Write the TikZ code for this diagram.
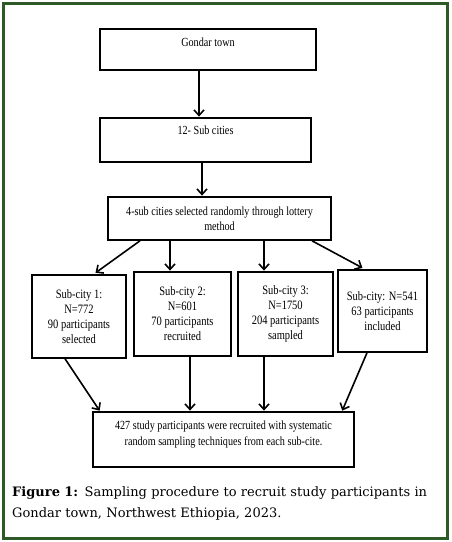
\documentclass[tikz,border=0pt]{standalone}
\usepackage{fontspec}
\setmainfont{Liberation Serif}
\newfontfamily\boxfont[FakeStretch=0.82]{Liberation Serif}
\newfontfamily\capfont{DejaVu Serif}
\usetikzlibrary{arrows.meta,calc}
\definecolor{framegreen}{HTML}{2E5A27}
\tikzset{
  box/.style={draw=black, line width=1.6pt, align=center, inner sep=0pt,
    font=\boxfont\fontsize{12.4}{15}\selectfont},
  arr/.style={line width=1.6pt, -{Straight Barb[length=5.5pt,width=10pt,line width=1.6pt]}, shorten >=0.6pt},
}
\begin{document}
\begin{tikzpicture}[x=1pt,y=-1pt]
\useasboundingbox (0,0) rectangle (452,542);
\fill[white] (0,0) rectangle (452,542);
\draw[framegreen, line width=3pt] (3.4,3.4) rectangle (447.6,538);

\node[box, minimum width=216pt, minimum height=41pt, text height=8pt, text depth=14pt] (g) at (208,49.5) {Gondar town};
\node[box, minimum width=211pt, minimum height=44pt, text height=8pt, text depth=19pt] (s) at (205.5,140) {12- Sub cities};
\node[box, minimum width=223pt, minimum height=43pt] (l) at (219.5,218.5) {4-sub cities selected randomly through lottery\\method};

\node[box, minimum width=94pt, minimum height=83pt, font=\boxfont\fontsize{12.8}{15}\selectfont] (a) at (79,316.5) {Sub-city 1:\\N=772\\90 participants\\selected};
\node[box, minimum width=97pt, minimum height=84pt, font=\boxfont\fontsize{12.8}{15}\selectfont] (b) at (182.5,314) {Sub-city 2:\\N=601\\70 participants\\recruited};
\node[box, minimum width=95pt, minimum height=84pt, font=\boxfont\fontsize{12.8}{15}\selectfont] (c) at (285.5,314) {Sub-city 3:\\N=1750\\204 participants\\sampled};
\node[box, minimum width=89pt, minimum height=82pt, font=\boxfont\fontsize{12.8}{15}\selectfont] (d) at (382.5,311) {Sub-city: N=541\\63 participants\\included};

\node[box, minimum width=261pt, minimum height=55pt, text depth=12.5pt, font=\boxfont\fontsize{12.4}{16}\selectfont] (t) at (223.5,439.5) {427 study participants were recruited with systematic\\random sampling techniques from each sub-cite.};

\draw[arr] ([xshift=-9pt]g.south) -- ([xshift=-9pt]g.south |- s.north);
\draw[arr] ([xshift=-3.5pt]s.south) -- ([xshift=-3.5pt]s.south |- l.north);

\draw[arr] ([xshift=-79.5pt]l.south) -- ([xshift=16pt,yshift=1pt]a.north);
\draw[arr] ([xshift=-49.5pt]l.south) -- ([xshift=-12.5pt]b.north);
\draw[arr] ([xshift=44.5pt]l.south) -- ([xshift=-21.5pt]c.north);
\draw[arr] ([xshift=92.5pt]l.south) -- ([xshift=-19.5pt,yshift=1pt]d.north);

\draw[arr] ([xshift=-14pt]a.south) -- ([xshift=-123.5pt]t.north);
\draw[arr] ([xshift=7.5pt]b.south) -- ([xshift=-33.5pt]t.north);
\draw[arr] ([xshift=-21.5pt]c.south) -- ([xshift=40.5pt]t.north);
\draw[arr] ([xshift=-15.5pt]d.south) -- ([xshift=118.5pt]t.north);

\node[anchor=north west, align=left, inner sep=0pt, text width=436pt, font=\capfont\fontsize{13}{21}\selectfont] (cap) at (12,486) {\textbf{Figure 1:} Sampling procedure to recruit study participants in\\Gondar town, Northwest Ethiopia, 2023.};
\end{tikzpicture}
\end{document}
